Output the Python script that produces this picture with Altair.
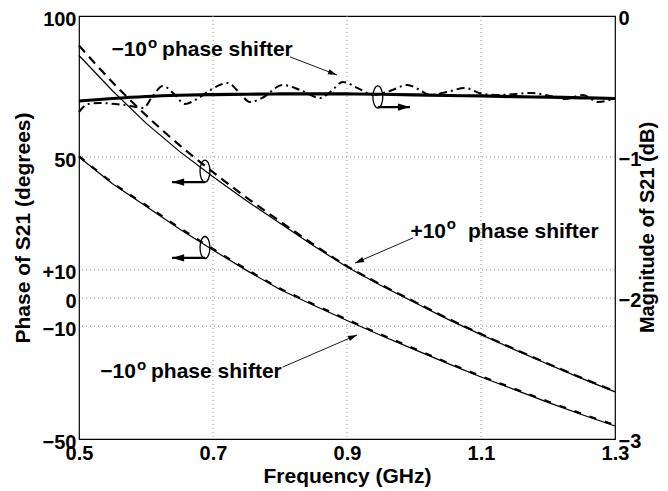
import altair as alt
import pandas as pd

FONT = "Liberation Sans"

# ---------------- data ----------------
freq = [0.5, 0.55, 0.6, 0.65, 0.7, 0.75, 0.8, 0.85, 0.9, 0.95, 1.0, 1.05, 1.1, 1.15, 1.2, 1.25, 1.3]

phase_plus_sim = [86.0, 73.5, 62.0, 52.0, 43.0, 34.5, 26.5, 18.5, 11.0, 4.5, -1.5, -7.5, -13.0, -18.3, -23.5, -28.5, -33.3]
phase_plus_meas = [89.5, 76.5, 64.8, 54.2, 44.6, 35.6, 27.2, 19.0, 11.3, 4.8, -1.2, -7.2, -12.8, -18.1, -23.3, -28.3, -33.1]
phase_minus_sim = [50.0, 40.5, 32.5, 24.5, 17.0, 9.8, 3.0, -2.6, -8.0, -13.2, -18.2, -23.2, -28.0, -32.5, -37.0, -41.3, -45.4]
phase_minus_meas = [50.3, 40.9, 32.9, 24.9, 17.4, 10.2, 3.4, -2.2, -7.6, -12.9, -17.9, -22.9, -27.7, -32.2, -36.7, -41.0, -45.1]

mag_sim = [-0.603, -0.585, -0.571, -0.562, -0.557, -0.555, -0.553, -0.553, -0.553, -0.555,
           -0.559, -0.564, -0.567, -0.572, -0.576, -0.580, -0.585]

mag_meas_freq = [0.5, 0.513, 0.531, 0.554, 0.576, 0.596, 0.610, 0.625, 0.642, 0.658, 0.676, 0.696,
                 0.722, 0.740, 0.755, 0.773, 0.804, 0.830, 0.860, 0.875, 0.894, 0.916, 0.939, 0.964,
                 0.990, 1.006, 1.024, 1.049, 1.076, 1.103, 1.128, 1.151, 1.176, 1.203, 1.225, 1.252,
                 1.275, 1.3]
mag_meas = [-0.681, -0.624, -0.617, -0.624, -0.638, -0.652, -0.567, -0.496, -0.553, -0.624, -0.589, -0.525,
            -0.475, -0.546, -0.610, -0.582, -0.489, -0.525, -0.582, -0.539, -0.468, -0.511, -0.560, -0.532,
            -0.489, -0.518, -0.560, -0.539, -0.511, -0.553, -0.560, -0.553, -0.546, -0.567, -0.589, -0.560,
            -0.610, -0.582]

# axes
x_ticks = [0.5, 0.7, 0.9, 1.1, 1.3]
phase_ticks = [-50, -10, 0, 10, 50, 100]
phase_tick_text = ["\u221250", "\u221210", "0", "+10", "50", "100"]
mag_ticks = [-3, -2, -1, 0]
mag_tick_text = ["\u22123", "\u22122", "\u22121", "0"]
x_grid = [0.7, 0.9, 1.1]
phase_grid = [-10, 0, 10, 50]

# ellipse markers (phase-axis units)
marker_x = [0.688, 0.688, 0.946]
marker_y = [45.0, 17.9, 71.3]
# horizontal arrows from the markers
side_from_x = [0.688, 0.688, 0.946]
side_y = [41.1, 14.2, 67.7]
side_tip_x = [0.639, 0.639, 0.994]
side_angle = [180, 180, 0]

# annotations
note_num = ["\u221210", "+10", "\u221210"]
note_num_x = [0.6015, 1.0478, 0.585]
note_o_x = [0.603, 1.049, 0.5866]
note_txt_x = [0.624, 1.0806, 0.6075]
note_y = [85.8, 21.3, -28.4]
note_o_y = [88.8, 24.3, -25.4]
note_tail_x = [0.815, 0.9985, 0.804]
note_tail_y = [85.5, 21.3, -24.5]
note_tip_x = [0.885, 0.912, 0.915]
note_tip_y = [79.1, 12.4, -13.1]
note_angle = [21.0, 156.7, 336.6]


def expr_for(vals, texts):
    e = "datum.label"
    for v, t in zip(vals, texts):
        e = f"datum.value == {v} ? '{t}' : ({e})"
    return e


x_axis = alt.Axis(values=x_ticks, format=".1f", title="Frequency (GHz)", labelPadding=4,
                  labelFlush=False, titlePadding=2, titleFontSize=21)
left_axis = alt.Axis(values=phase_ticks, labelExpr=expr_for(phase_ticks, phase_tick_text),
                     title="Phase of S21 (degrees)", labelPadding=3, labelOffset=3, labelFlush=False,
                     titlePadding=9, titleFontSize=21)
right_axis = alt.Axis(orient="right", values=mag_ticks, labelExpr=expr_for(mag_ticks, mag_tick_text),
                      title="Magnitude of S21 (dB)", labelPadding=3, labelOffset=2, labelFlush=False,
                      titleFontSize=20, titleAngle=270, titleBaseline="top", titleAlign="center",
                      titleX=22, titleY=211)

X = alt.X("x:Q", scale=alt.Scale(domain=[0.5, 1.3], nice=False, zero=False), axis=x_axis)
X2 = alt.X2("x2:Q")
YP = alt.Y("y:Q", scale=alt.Scale(domain=[-50, 100], nice=False, zero=False), axis=left_axis)
Y2 = alt.Y2("y2:Q")
YM = alt.Y("y:Q", scale=alt.Scale(domain=[-3, 0], nice=False, zero=False), axis=right_axis)


def df(xs, ys):
    return pd.DataFrame({"x": xs, "y": ys})


grid_style = dict(color="#8c8c8c", strokeDash=[1, 3], strokeWidth=1)
gx = alt.Chart(pd.DataFrame({"x": x_grid})).mark_rule(**grid_style).encode(x=X)
gy = alt.Chart(pd.DataFrame({"y": phase_grid})).mark_rule(**grid_style).encode(y=YP)

l1 = alt.Chart(df(freq, phase_plus_sim)).mark_line(color="black", strokeWidth=1.2).encode(x=X, y=YP)
l2 = alt.Chart(df(freq, phase_plus_meas)).mark_line(color="black", strokeWidth=2.2, strokeDash=[9, 6],
                                                    interpolate="monotone").encode(x=X, y=YP)
l3 = alt.Chart(df(freq, phase_minus_sim)).mark_line(color="black", strokeWidth=1.2).encode(x=X, y=YP)
l4 = alt.Chart(df(freq, phase_minus_meas)).mark_line(color="black", strokeWidth=2.2, strokeDash=[7, 9],
                                                     interpolate="monotone").encode(x=X, y=YP)

ellipse_path = "M 0 -1 A 0.45 1 0 1 1 0 1 A 0.45 1 0 1 1 0 -1 Z"
ell = alt.Chart(df(marker_x, marker_y)).mark_point(shape=ellipse_path, size=484, filled=False,
                                                   color="black", strokeWidth=1.3, opacity=1).encode(x=X, y=YP)

side_df = pd.DataFrame({"x": side_from_x, "y": side_y, "x2": side_tip_x, "y2": side_y})
side_rule = alt.Chart(side_df).mark_rule(color="black", strokeWidth=2.2).encode(x=X, y=YP, x2=X2, y2=Y2)

head_path = "M 0 0 L -1 -0.3 L -1 0.3 Z"
heads = []
for i in range(len(side_tip_x)):
    heads.append(
        alt.Chart(df([side_tip_x[i]], [side_y[i]])).mark_point(
            shape=head_path, size=576, filled=True, color="black", opacity=1,
            angle=side_angle[i]).encode(x=X, y=YP))

note_df = pd.DataFrame({"x": note_tail_x, "y": note_tail_y, "x2": note_tip_x, "y2": note_tip_y})
note_rule = alt.Chart(note_df).mark_rule(color="black", strokeWidth=0.9).encode(x=X, y=YP, x2=X2, y2=Y2)
for i in range(len(note_tip_x)):
    heads.append(
        alt.Chart(df([note_tip_x[i]], [note_tip_y[i]])).mark_point(
            shape=head_path, size=324, filled=True, color="black", opacity=1,
            angle=note_angle[i]).encode(x=X, y=YP))

txt_style = dict(font=FONT, fontWeight="bold", color="black", baseline="alphabetic")
t_num = alt.Chart(pd.DataFrame({"x": note_num_x, "y": note_y, "t": note_num})).mark_text(
    align="right", fontSize=21, **txt_style).encode(x=X, y=YP, text="t:N")
t_o = alt.Chart(pd.DataFrame({"x": note_o_x, "y": note_o_y, "t": ["o"] * 3})).mark_text(
    align="left", fontSize=15, **txt_style).encode(x=X, y=YP, text="t:N")
t_txt = alt.Chart(pd.DataFrame({"x": note_txt_x, "y": note_y, "t": ["phase shifter"] * 3})).mark_text(
    align="left", fontSize=21, **txt_style).encode(x=X, y=YP, text="t:N")

phase_group = alt.layer(gx, gy, l1, l2, l3, l4, ell, side_rule, note_rule, *heads, t_num, t_o, t_txt)

m1 = alt.Chart(df(freq, mag_sim)).mark_line(color="black", strokeWidth=3.2, interpolate="monotone").encode(x=X, y=YM)
m2 = alt.Chart(df(mag_meas_freq, mag_meas)).mark_line(color="black", strokeWidth=2.0, strokeDash=[8, 4, 2, 4],
                                                      interpolate="monotone").encode(x=X, y=YM)
mag_group = alt.layer(m1, m2)

chart = alt.layer(phase_group, mag_group).resolve_scale(y="independent").properties(
    width=536, height=423,
    autosize=alt.AutoSizeParams(type="none"),
    padding={"left": 71, "top": 8, "right": 45, "bottom": 52},
    background="white",
).configure_view(stroke="black", strokeWidth=1.2).configure_axis(
    labelFont=FONT, labelFontSize=20, labelFontWeight="bold", labelColor="black",
    titleFont=FONT, titleFontWeight="bold", titleColor="black",
    domain=False, ticks=False, grid=False,
)

chart.save("out.html", embed_options={"renderer": "svg", "actions": False})
